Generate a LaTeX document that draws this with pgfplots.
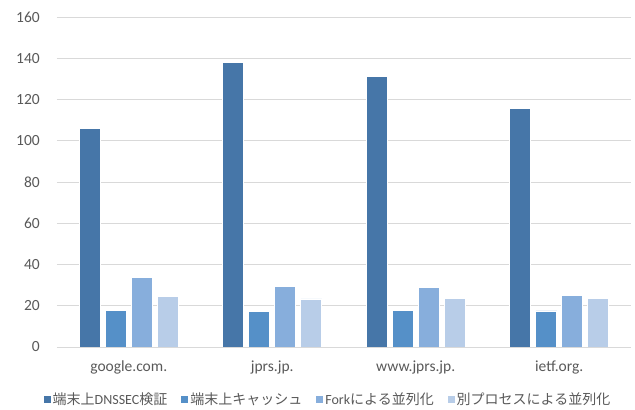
\documentclass[border=0pt]{standalone}
\usepackage{pgfplots}
\pgfplotsset{compat=1.18}
\usepackage{fontspec}
\setmainfont{Carlito}
\newfontfamily\cjk{Noto Sans CJK JP}
\definecolor{cA}{HTML}{4676A8}
\definecolor{cB}{HTML}{5590C8}
\definecolor{cC}{HTML}{87AEDC}
\definecolor{cD}{HTML}{B8CDE8}
\definecolor{txt}{HTML}{595959}
\definecolor{grd}{HTML}{D9D9D9}
\begin{document}
\begin{tikzpicture}
\begin{axis}[
  at={(0,0)}, anchor=south west,
  scale only axis, width=574bp, height=330bp,
  xmin=-0.5, xmax=3.5, ymin=0, ymax=160,
  ybar=5bp, bar width=21bp,
  xtick={0,1,2,3},
  xticklabels={google.com.,jprs.jp.,www.jprs.jp.,ietf.org.},
  ytick={0,20,...,160},
  /pgf/number format/assume math mode=true,
  axis line style={draw=none},
  major tick length=0pt,
  ymajorgrids, grid style={grd, line width=0.9bp},
  ticklabel style={font=\fontsize{15.5bp}{18bp}\selectfont, text=txt},
  yticklabel style={anchor=east, inner sep=0pt, xshift=-17bp},
  xticklabel style={anchor=north, inner sep=0pt, yshift=-14bp},
  legend columns=4,
  legend style={draw=none, fill=none, at={(271bp,-52bp)}, anchor=center,
    font=\fontsize{14bp}{16bp}\selectfont, text=txt,
    /tikz/every even column/.append style={column sep=12bp},
    inner sep=0pt},
  legend image code/.code={\fill[#1,draw=none] (0bp,-3.5bp) rectangle (7bp,3.5bp);},
  every axis plot/.append style={draw=white, line width=0.6bp},
]
\addplot[fill=cA] coordinates {(0,106) (1,137.8) (2,131.2) (3,115.7)};
\addplot[fill=cB] coordinates {(0,17.8) (1,17.1) (2,17.9) (3,17.5)};
\addplot[fill=cC] coordinates {(0,33.8) (1,29.4) (2,28.8) (3,24.9)};
\addplot[fill=cD] coordinates {(0,24.6) (1,23.3) (2,23.4) (3,23.6)};
\legend{{\cjk 端末上}DNSSEC{\cjk 検証},{\cjk 端末上キャッシュ},Fork{\cjk による並列化},{\cjk 別プロセスによる並列化}}
\end{axis}
\pgfresetboundingbox
\path[use as bounding box] (-57bp,-63bp) rectangle (578bp,347bp);
\end{tikzpicture}
\end{document}
